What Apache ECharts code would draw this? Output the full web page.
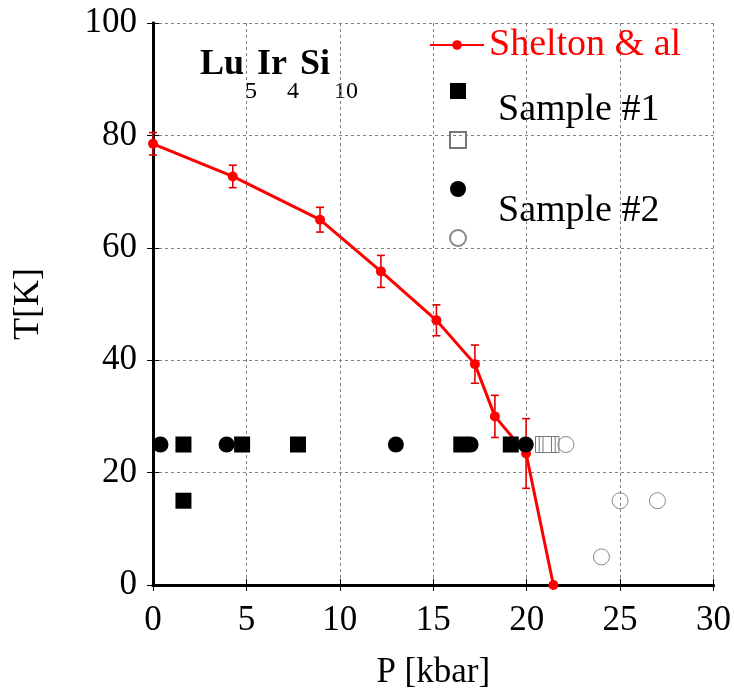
<!DOCTYPE html>
<html>
<head>
<meta charset="utf-8">
<script src="https://cdn.jsdelivr.net/npm/echarts@6/dist/echarts.min.js"></script>
<style>html,body{margin:0;padding:0;background:#fff}#c{width:734px;height:696px}</style>
</head>
<body>
<div id="c"></div>
<script>
// ---- data ----
var xTicks = [0, 5, 10, 15, 20, 25, 30];
var yTicks = [0, 20, 40, 60, 80, 100];
var sheltonP = [0, 4.27, 8.94, 12.2, 15.17, 17.23, 18.3, 19.97, 21.43];
var sheltonT = [78.5, 72.7, 65.0, 55.8, 47.1, 39.3, 30.0, 23.4, 0];
var sheltonErr = [2.0, 2.0, 2.2, 2.85, 2.75, 3.4, 3.75, 6.2, 0];
var s1FilledP = [1.63, 4.77, 7.76, 16.5, 19.15, 1.63];
var s1FilledT = [25, 25, 25, 25, 25, 15];
var s1OpenP = [20.9, 21.1, 21.3];
var s1OpenT = [25, 25, 25];
var s2FilledP = [0.4, 3.94, 13.0, 17.0, 19.95];
var s2FilledT = [25, 25, 25, 25, 25];
var s2OpenP = [22.1, 25.0, 27.0, 24.0];
var s2OpenT = [25, 15, 15, 5];

function pairs(a, b) { return a.map(function (v, i) { return [v, b[i]]; }); }

var FONT = 'Liberation Serif';
var chart = echarts.init(document.getElementById('c'), null, {renderer: 'canvas'});

var gridLine = {show: true, lineStyle: {type: [3, 3], color: '#808080', width: 1}};
var axisLineStyle = {show: true, lineStyle: {color: '#000', width: 3}};

var option = {
  animation: false,
  backgroundColor: '#fff',
  grid: {left: 153, right: 20, top: 23, bottom: 111, containLabel: false},
  xAxis: [{
    type: 'value', min: xTicks[0], max: xTicks[xTicks.length - 1], interval: 5,
    axisLine: axisLineStyle,
    axisTick: {show: true, inside: true, length: 6, lineStyle: {color: '#000'}},
    axisLabel: {fontFamily: FONT, fontSize: 35, color: '#000', margin: 18},
    splitLine: gridLine,
    name: 'P [kbar]', nameLocation: 'middle', nameGap: 70,
    nameTextStyle: {fontFamily: FONT, fontSize: 35, color: '#000'}
  }, {
    type: 'value', position: 'top', min: xTicks[0], max: xTicks[xTicks.length - 1], interval: 5,
    axisLine: axisLineStyle,
    axisTick: {show: true, inside: true, length: 6, lineStyle: {color: '#000'}},
    axisLabel: {show: false}, splitLine: {show: false}
  }],
  yAxis: [{
    type: 'value', min: yTicks[0], max: yTicks[yTicks.length - 1], interval: 20,
    axisLine: axisLineStyle,
    axisTick: {show: true, inside: true, length: 6, lineStyle: {color: '#000'}},
    axisLabel: {fontFamily: FONT, fontSize: 35, color: '#000', margin: 16},
    splitLine: gridLine,
    name: 'T[K]', nameLocation: 'middle', nameGap: 106, nameRotate: 90,
    nameTextStyle: {fontFamily: FONT, fontSize: 36, color: '#000'}
  }, {
    type: 'value', position: 'right', min: yTicks[0], max: yTicks[yTicks.length - 1], interval: 20,
    axisLine: axisLineStyle,
    axisTick: {show: true, inside: true, length: 6, lineStyle: {color: '#000'}},
    axisLabel: {show: false}, splitLine: {show: false}
  }],
  legend: [{
    data: ['Shelton & al'], left: 429, top: 26, orient: 'vertical', padding: 0,
    itemWidth: 54, itemHeight: 12, itemGap: 6,
    textStyle: {fontFamily: FONT, fontSize: 38, color: '#ff0000', padding: [0, 0, 0, 0]}
  }, {
    data: ['Sample #1 filled', 'Sample #1 open', 'Sample #2 filled', 'Sample #2 open'],
    left: 449, top: 83, orient: 'vertical', padding: 0, itemWidth: 16, itemHeight: 16, itemGap: 32,
    formatter: function () { return ''; },
    textStyle: {fontSize: 1, padding: 0}
  }],
  graphic: [
    {type: 'text', left: 200, top: 47, style: {text: 'Lu', font: 'bold 36px "Liberation Serif"', fill: '#000'}},
    {type: 'text', left: 245, top: 80, style: {text: '5', font: '24px "Liberation Serif"', fill: '#000'}},
    {type: 'text', left: 257, top: 47, style: {text: 'Ir', font: 'bold 36px "Liberation Serif"', fill: '#000'}},
    {type: 'text', left: 287, top: 80, style: {text: '4', font: '24px "Liberation Serif"', fill: '#000'}},
    {type: 'text', left: 300, top: 47, style: {text: 'Si', font: 'bold 36px "Liberation Serif"', fill: '#000'}},
    {type: 'text', left: 334, top: 80, style: {text: '10', font: '24px "Liberation Serif"', fill: '#000'}},
    {type: 'text', left: 498, top: 91, style: {text: 'Sample #1', font: '38px "Liberation Serif"', fill: '#000'}},
    {type: 'text', left: 498, top: 192, style: {text: 'Sample #2', font: '38px "Liberation Serif"', fill: '#000'}}
  ],
  series: [
    {
      name: 'Shelton & al', type: 'line', data: pairs(sheltonP, sheltonT),
      symbol: 'circle', symbolSize: 10, z: 3,
      lineStyle: {color: '#ff0000', width: 3}, itemStyle: {color: '#ff0000', opacity: 1}
    },
    {
      name: 'err', type: 'custom', z: 2,
      data: sheltonP.map(function (p, i) { return [p, sheltonT[i], sheltonErr[i]]; }),
      renderItem: function (params, api) {
        var p = api.value(0), t = api.value(1), e = api.value(2);
        if (!e) return null;
        var lo = api.coord([p, t - e]), hi = api.coord([p, t + e]);
        var s = {stroke: '#e00000', lineWidth: 1.6};
        return {type: 'group', children: [
          {type: 'line', shape: {x1: lo[0], y1: lo[1], x2: hi[0], y2: hi[1]}, style: s},
          {type: 'line', shape: {x1: lo[0] - 4, y1: lo[1], x2: lo[0] + 4, y2: lo[1]}, style: s},
          {type: 'line', shape: {x1: hi[0] - 4, y1: hi[1], x2: hi[0] + 4, y2: hi[1]}, style: s}
        ]};
      }
    },
    {
      name: 'Sample #2 filled', type: 'scatter', data: pairs(s2FilledP, s2FilledT),
      symbol: 'circle', symbolSize: 16, z: 4, itemStyle: {color: '#000', opacity: 1}
    },
    {
      name: 'Sample #2 open', type: 'scatter', data: pairs(s2OpenP, s2OpenT),
      symbol: 'circle', symbolSize: 16, z: 4,
      itemStyle: {color: 'rgba(255,255,255,0)', borderColor: '#888', borderWidth: 1, opacity: 1}
    },
    {
      name: 'Sample #1 filled', type: 'scatter', data: pairs(s1FilledP, s1FilledT),
      symbol: 'rect', symbolSize: 16, z: 5, itemStyle: {color: '#000', opacity: 1}
    },
    {
      name: 'Sample #1 open', type: 'scatter', data: pairs(s1OpenP, s1OpenT),
      symbol: 'rect', symbolSize: 16, z: 5,
      itemStyle: {color: 'rgba(255,255,255,0)', borderColor: '#777', borderWidth: 1, opacity: 1}
    }
  ]
};
chart.setOption(option);
</script>
</body>
</html>
